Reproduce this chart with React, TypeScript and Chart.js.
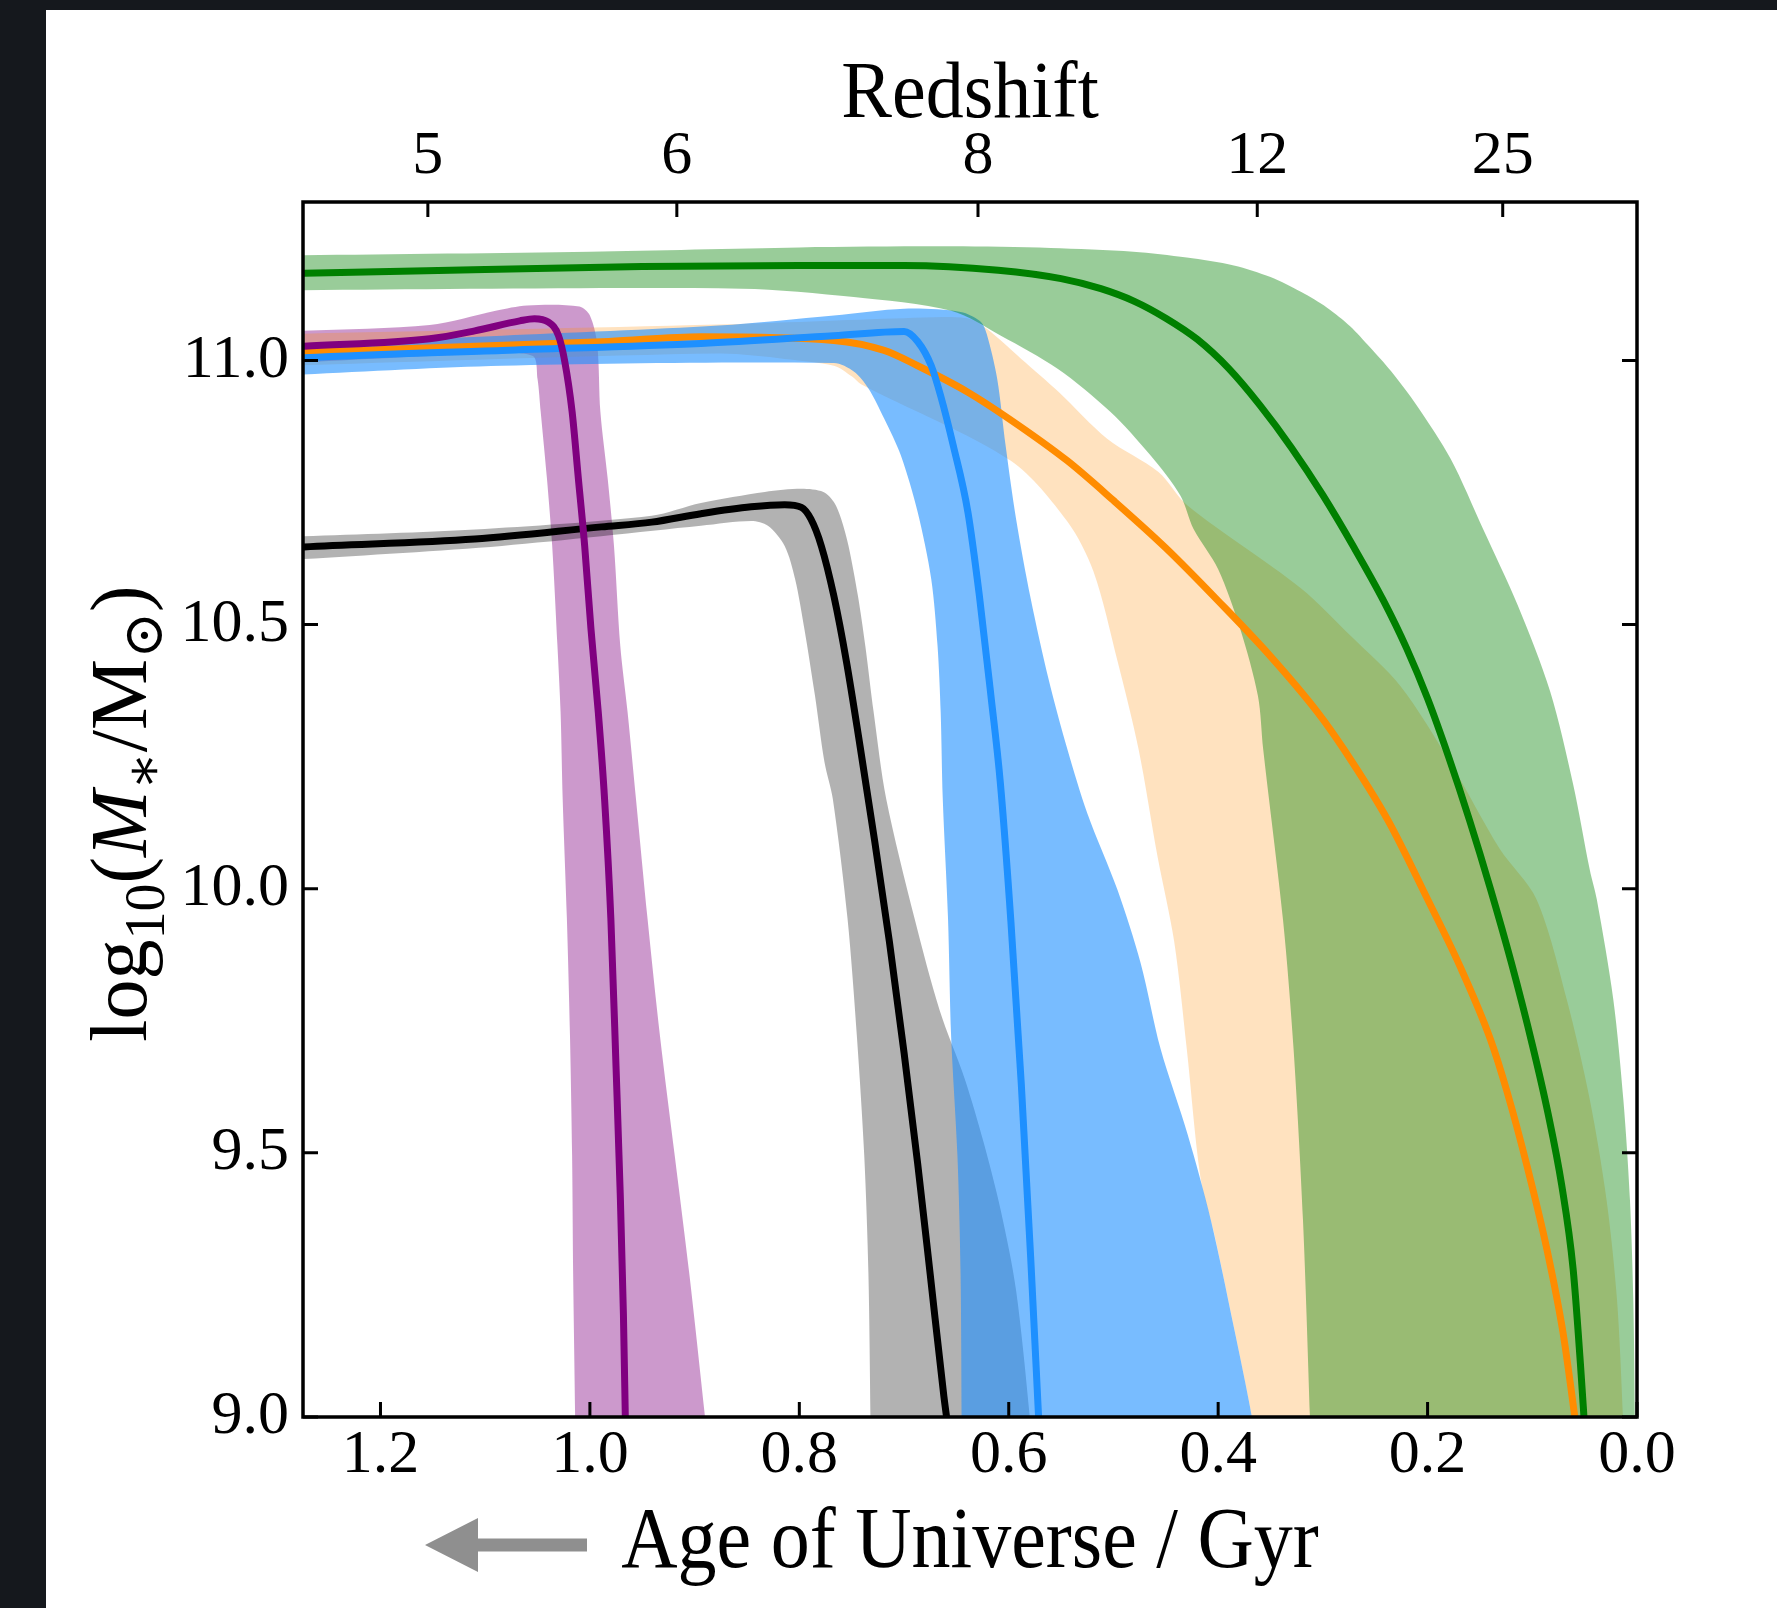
import React, { useEffect, useRef } from 'react';
import { Chart, registerables } from 'chart.js';

Chart.register(...registerables);

const FONT = '"Liberation Serif", "DejaVu Serif", serif';

// ---------- axes ----------
const xTickValues = [0.0, 0.2, 0.4, 0.6, 0.8, 1.0, 1.2];
const yTickValues = [9.0, 9.5, 10.0, 10.5, 11.0];
const redshiftTickLabels = [5, 6, 8, 12, 25];
const xRange = [0, 1.274];
const yRange = [9.0, 11.3];

// ---------- series: [age (Gyr), log10 M*] ----------
const purpleLine = [
  [1.29, 11.025], [1.273, 11.027], [1.153, 11.041], [1.11, 11.056], [1.067, 11.075], [1.053, 11.079],
  [1.04, 11.073], [1.03, 11.047], [1.024, 10.998], [1.017, 10.903], [1.011, 10.776], [1.005, 10.649],
  [0.999, 10.492], [0.992, 10.334], [0.986, 10.17], [0.98, 9.944], [0.975, 9.66], [0.971, 9.42],
  [0.968, 9.195], [0.966, 8.98],
];
const purpleUpper = [
  [1.29, 11.055], [1.153, 11.067], [1.09, 11.094], [1.06, 11.104], [1.01, 11.102], [1.0, 11.085],
  [0.993, 11.03], [0.99, 10.903], [0.983, 10.776], [0.977, 10.649], [0.971, 10.46], [0.964, 10.334],
  [0.956, 10.17], [0.945, 9.944], [0.933, 9.72], [0.919, 9.495], [0.905, 9.27], [0.889, 8.98], [0.885, 8.9],
];
const purpleLower = [
  [1.29, 10.995], [1.11, 11.012], [1.055, 11.009], [1.05, 10.965], [1.047, 10.903], [1.041, 10.776],
  [1.036, 10.649], [1.031, 10.46], [1.028, 10.334], [1.026, 10.17], [1.022, 9.944], [1.019, 9.72],
  [1.017, 9.495], [1.016, 9.27], [1.014, 8.98], [1.014, 8.9],
];

const blackLine = [
  [1.29, 10.645], [1.273, 10.647], [1.11, 10.662], [0.989, 10.685], [0.941, 10.694], [0.894, 10.71],
  [0.846, 10.723], [0.814, 10.727], [0.798, 10.722], [0.789, 10.70], [0.779, 10.649], [0.767, 10.554],
  [0.755, 10.43], [0.742, 10.27], [0.728, 10.09], [0.714, 9.9], [0.7, 9.69], [0.687, 9.48],
  [0.675, 9.27], [0.662, 9.04], [0.658, 8.98],
];
const grayUpper = [
  [1.29, 10.666], [1.11, 10.68], [0.941, 10.706], [0.894, 10.73], [0.833, 10.751], [0.798, 10.757],
  [0.777, 10.751], [0.767, 10.732], [0.76, 10.70], [0.753, 10.649], [0.744, 10.554], [0.737, 10.46],
  [0.729, 10.334], [0.717, 10.17], [0.69, 9.944], [0.666, 9.77], [0.642, 9.64], [0.624, 9.52],
  [0.6075, 9.39], [0.593, 9.24], [0.579, 8.98], [0.577, 8.9],
];
const grayLower = [
  [1.29, 10.622], [1.273, 10.624], [1.084, 10.649], [0.894, 10.687], [0.846, 10.696], [0.83, 10.687],
  [0.814, 10.649], [0.804, 10.586], [0.795, 10.49], [0.785, 10.365], [0.776, 10.24], [0.768, 10.17],
  [0.754, 9.944], [0.745, 9.72], [0.738, 9.495], [0.734, 9.27], [0.732, 8.98], [0.732, 8.9],
];

const blueLine = [
  [1.29, 11.003], [1.273, 11.005], [1.084, 11.019], [0.894, 11.032], [0.767, 11.047], [0.70, 11.055],
  [0.687, 11.036], [0.674, 10.99], [0.665, 10.933], [0.653, 10.839], [0.639, 10.713], [0.628, 10.554],
  [0.617, 10.365], [0.608, 10.2], [0.598, 9.94], [0.588, 9.63], [0.579, 9.3], [0.571, 8.98],
];
const blueUpper = [
  [1.29, 11.03], [1.084, 11.047], [0.877, 11.066], [0.767, 11.085], [0.70, 11.098], [0.646, 11.092],
  [0.627, 11.074], [0.621, 11.05], [0.611, 10.965], [0.603, 10.839], [0.593, 10.70], [0.579, 10.549],
  [0.562, 10.397], [0.544, 10.264], [0.525, 10.143], [0.496, 9.997], [0.474, 9.859], [0.455, 9.697],
  [0.429, 9.534], [0.407, 9.373], [0.385, 9.17], [0.366, 8.98], [0.362, 8.9],
];
const blueLower = [
  [1.29, 10.972], [1.084, 10.99], [0.767, 10.995], [0.748, 10.979], [0.734, 10.947], [0.719, 10.89],
  [0.703, 10.82], [0.687, 10.713], [0.674, 10.586], [0.668, 10.46], [0.665, 10.334], [0.663, 10.17],
  [0.658, 9.944], [0.655, 9.72], [0.649, 9.495], [0.646, 9.27], [0.645, 8.98], [0.645, 8.9],
];

const orangeLine = [
  [1.29, 11.015], [1.273, 11.016], [0.982, 11.036], [0.894, 11.045], [0.767, 11.038], [0.719, 11.019],
  [0.687, 10.99], [0.639, 10.94], [0.6, 10.89], [0.544, 10.81], [0.5, 10.735], [0.45, 10.645],
  [0.4, 10.545], [0.35, 10.44], [0.305, 10.334], [0.28, 10.264], [0.238, 10.13], [0.2, 9.98],
  [0.169, 9.853], [0.14, 9.715], [0.124, 9.615], [0.105, 9.475], [0.086, 9.317], [0.0706, 9.159], [0.058, 8.98],
];
const orangeUpper = [
  [1.29, 11.05], [0.877, 11.068], [0.70, 11.08], [0.64, 11.08], [0.621, 11.06], [0.588, 11.003],
  [0.552, 10.94], [0.506, 10.852], [0.457, 10.789], [0.429, 10.725], [0.321, 10.569], [0.274, 10.48],
  [0.226, 10.384], [0.178, 10.238], [0.131, 10.075], [0.096, 9.98], [0.067, 9.79], [0.045, 9.6],
  [0.029, 9.41], [0.019, 9.22], [0.013, 8.98], [0.012, 8.9],
];
const orangeLower = [
  [1.29, 10.99], [0.877, 11.013], [0.814, 11.003], [0.767, 10.99], [0.75, 10.97], [0.741, 10.955],
  [0.598, 10.81], [0.544, 10.695], [0.519, 10.6], [0.496, 10.43], [0.476, 10.264], [0.458, 10.062],
  [0.442, 9.9], [0.43, 9.697], [0.417, 9.455], [0.404, 9.349], [0.385, 9.17], [0.366, 8.98], [0.362, 8.9],
];

const greenLine = [
  [1.29, 11.164], [1.273, 11.165], [1.1, 11.172], [0.95, 11.178], [0.8, 11.18], [0.7, 11.18],
  [0.61, 11.171], [0.55, 11.155], [0.512, 11.136], [0.48, 11.112], [0.45, 11.08], [0.42, 11.04],
  [0.39, 10.985], [0.36, 10.915], [0.33, 10.835], [0.3, 10.745], [0.27, 10.645], [0.242, 10.545],
  [0.22, 10.455], [0.2, 10.36], [0.18, 10.25], [0.16, 10.13], [0.14, 10.0], [0.12, 9.86],
  [0.1, 9.705], [0.085, 9.575], [0.072, 9.44], [0.061, 9.28], [0.054, 9.1], [0.05, 8.98],
];
const greenUpper = [
  [1.29, 11.199], [1.0, 11.206], [0.8, 11.214], [0.655, 11.216], [0.56, 11.213], [0.481, 11.206],
  [0.43, 11.195], [0.385, 11.18], [0.35, 11.158], [0.321, 11.13], [0.296, 11.1], [0.274, 11.065],
  [0.255, 11.025], [0.235, 10.98], [0.21, 10.914], [0.178, 10.814], [0.147, 10.681], [0.114, 10.537],
  [0.083, 10.374], [0.061, 10.198], [0.045, 10.035], [0.0384, 9.98], [0.0226, 9.79], [0.013, 9.6],
  [0.0067, 9.41], [0.0035, 9.22], [0.002, 8.98], [0.002, 8.9],
];
const greenLower = [
  [1.29, 11.133], [0.855, 11.136], [0.748, 11.12], [0.655, 11.094], [0.6075, 11.047], [0.553, 10.984],
  [0.503, 10.903], [0.4645, 10.82], [0.436, 10.744], [0.4235, 10.681], [0.4, 10.605], [0.379, 10.492],
  [0.362, 10.365], [0.357, 10.264], [0.338, 9.94], [0.328, 9.697], [0.319, 9.373], [0.312, 8.98], [0.311, 8.9],
];

// flat LCDM (H0 = 70, Om = 0.3): age of the Universe at redshift z, in Gyr
function ageAtRedshift(z: number): number {
  const H0 = 70, Om = 0.3, OL = 0.7;
  const hubbleTime = 977.792 / H0;
  return (2 / (3 * Math.sqrt(OL))) * hubbleTime * Math.asinh(Math.sqrt(OL / Om) * Math.pow(1 + z, -1.5));
}

const toPts = (arr: number[][]) => arr.map(([x, y]) => ({ x, y }));
const polygon = (upper: number[][], lower: number[][]) => toPts([...upper, ...lower.slice().reverse()]);

const lineDs = (data: number[][], color: string, order: number) => ({
  type: 'line' as const,
  data: toPts(data),
  borderColor: color,
  borderWidth: 7,
  pointRadius: 0,
  fill: false,
  cubicInterpolationMode: 'monotone' as const,
  borderJoinStyle: 'round' as const,
  order,
});

const bandDs = (upper: number[][], lower: number[][], color: string, order: number) => ({
  type: 'line' as const,
  data: polygon(upper, lower),
  borderWidth: 0,
  borderColor: 'rgba(0,0,0,0)',
  backgroundColor: color,
  pointRadius: 0,
  fill: 'shape' as const,
  tension: 0.3,
  order,
});

const yTitleParts = [
  { t: 'log', italic: false, scale: 1, dy: 0 },
  { t: '10', italic: false, scale: 0.7, dy: 0.22 },
  { t: '(', italic: false, scale: 1, dy: 0 },
  { t: 'M', italic: true, scale: 1, dy: 0 },
  { t: '\u2217', italic: false, scale: 0.7, dy: 0.2 },
  { t: '/', italic: false, scale: 1, dy: 0 },
  { t: 'M', italic: false, scale: 1, dy: 0 },
  { t: '\u2299', italic: false, scale: 0.7, dy: 0.2 },
  { t: ')', italic: false, scale: 1, dy: 0 },
];

const frameTicksPlugin = {
  id: 'frameTicks',
  afterDatasetsDraw(chart: any) {
    const { ctx, chartArea: a, scales } = chart;
    const L = 15;
    ctx.save();
    ctx.strokeStyle = '#000';
    ctx.lineWidth = 3;
    ctx.beginPath();
    for (const t of scales.x.ticks) {
      const px = scales.x.getPixelForValue(t.value);
      ctx.moveTo(px, a.bottom);
      ctx.lineTo(px, a.bottom - L);
    }
    for (const t of scales.x2.ticks) {
      const px = scales.x2.getPixelForValue(t.value);
      ctx.moveTo(px, a.top);
      ctx.lineTo(px, a.top + L);
    }
    for (const t of scales.y.ticks) {
      const py = scales.y.getPixelForValue(t.value);
      ctx.moveTo(a.left, py);
      ctx.lineTo(a.left + L, py);
      ctx.moveTo(a.right, py);
      ctx.lineTo(a.right - L, py);
    }
    ctx.stroke();
    ctx.lineWidth = 3.5;
    ctx.strokeRect(a.left, a.top, a.right - a.left, a.bottom - a.top);
    ctx.restore();
  },
};

const titlesPlugin = {
  id: 'titles',
  afterDraw(chart: any) {
    const { ctx, chartArea: a } = chart;
    const cx = (a.left + a.right) / 2;
    ctx.save();
    ctx.fillStyle = '#000';
    ctx.textBaseline = 'alphabetic';
    ctx.textAlign = 'center';

    // top title
    ctx.save();
    ctx.translate(cx, a.top - 85);
    ctx.scale(1, 1.05);
    ctx.font = `76px ${FONT}`;
    ctx.fillText('Redshift', 0, 0);
    ctx.restore();

    // bottom title
    ctx.save();
    ctx.translate(cx, a.bottom + 150);
    ctx.scale(1, 1.1);
    ctx.font = `78px ${FONT}`;
    ctx.fillText('Age of Universe / Gyr', 0, 0);
    ctx.restore();

    // arrow
    const ay = a.bottom + 128;
    const tipX = a.left + 122, headX = a.left + 175, tailX = a.left + 284;
    ctx.fillStyle = '#8f8f8f';
    ctx.beginPath();
    ctx.moveTo(tipX, ay);
    ctx.lineTo(headX, ay - 27);
    ctx.lineTo(headX, ay - 6.5);
    ctx.lineTo(tailX, ay - 6.5);
    ctx.lineTo(tailX, ay + 6.5);
    ctx.lineTo(headX, ay + 6.5);
    ctx.lineTo(headX, ay + 27);
    ctx.closePath();
    ctx.fill();

    // y title (rich text, rotated)
    const size = 80;
    ctx.fillStyle = '#000';
    ctx.textAlign = 'left';
    ctx.translate(a.left - 157, (a.top + a.bottom) / 2 + 4);
    ctx.rotate(-Math.PI / 2);
    const fontOf = (p: any) => `${p.italic ? 'italic ' : ''}${size * p.scale}px ${FONT}`;
    let total = 0;
    const widths = yTitleParts.map((p) => {
      ctx.font = fontOf(p);
      const w = ctx.measureText(p.t).width;
      total += w;
      return w;
    });
    let x = -total / 2;
    yTitleParts.forEach((p, i) => {
      ctx.font = fontOf(p);
      ctx.fillText(p.t, x, p.dy * size);
      x += widths[i];
    });
    ctx.restore();
  },
};

const tickFont = { family: FONT, size: 62 };

export default function App() {
  const ref = useRef<HTMLCanvasElement | null>(null);

  useEffect(() => {
    if (!ref.current) return;
    const chart = new Chart(ref.current, {
      type: 'line',
      data: {
        datasets: [
          lineDs(greenLine, '#008000', 0),
          lineDs(purpleLine, '#800080', 1),
          lineDs(blueLine, '#1e90ff', 2),
          lineDs(orangeLine, '#ff8c00', 3),
          lineDs(blackLine, '#000000', 4),
          bandDs(greenUpper, greenLower, 'rgba(0,128,0,0.4)', 10),
          bandDs(blueUpper, blueLower, 'rgba(30,144,255,0.6)', 11),
          bandDs(orangeUpper, orangeLower, 'rgba(255,140,0,0.25)', 12),
          bandDs(grayUpper, grayLower, 'rgba(0,0,0,0.3)', 13),
          bandDs(purpleUpper, purpleLower, 'rgba(128,0,128,0.4)', 14),
        ] as any,
      },
      options: {
        animation: false,
        responsive: false,
        devicePixelRatio: 1,
        parsing: false as any,
        normalized: false,
        layout: { padding: { left: 0, right: 140, top: 0, bottom: 0 } },
        plugins: { legend: { display: false }, tooltip: { enabled: false } },
        events: [],
        scales: {
          x: {
            type: 'linear',
            position: 'bottom',
            min: xRange[0],
            max: xRange[1],
            reverse: true,
            grid: { display: false, drawTicks: false },
            border: { display: false },
            afterBuildTicks: (s: any) => { s.ticks = xTickValues.map((v) => ({ value: v })); },
            afterFit: (s: any) => { s.height = 191; },
            ticks: {
              autoSkip: false, maxRotation: 0, minRotation: 0, padding: 2,
              color: '#000', font: tickFont,
              callback: (v: any) => Number(v).toFixed(1),
            },
          },
          x2: {
            type: 'linear',
            position: 'top',
            min: xRange[0],
            max: xRange[1],
            reverse: true,
            grid: { display: false, drawTicks: false },
            border: { display: false },
            afterBuildTicks: (s: any) => { s.ticks = redshiftTickLabels.map((z) => ({ value: ageAtRedshift(z) })); },
            afterFit: (s: any) => { s.height = 192; },
            ticks: {
              autoSkip: false, maxRotation: 0, minRotation: 0, padding: 8,
              color: '#000', font: tickFont,
              callback: (_v: any, i: number) => String(redshiftTickLabels[i]),
            },
          },
          y: {
            type: 'linear',
            position: 'left',
            min: yRange[0],
            max: yRange[1],
            grid: { display: false, drawTicks: false },
            border: { display: false },
            afterBuildTicks: (s: any) => { s.ticks = yTickValues.map((v) => ({ value: v })); },
            afterFit: (s: any) => { s.width = 257; },
            ticks: {
              autoSkip: false, padding: 14,
              color: '#000', font: tickFont,
              callback: (v: any) => Number(v).toFixed(1),
            },
          },
        } as any,
      },
      plugins: [frameTicksPlugin, titlesPlugin],
    } as any);
    return () => chart.destroy();
  }, []);

  return (
    <div style={{ position: 'fixed', left: 0, top: 0, width: '100vw', height: '100vh', background: '#15181d', overflow: 'hidden' }}>
      <canvas
        ref={ref}
        width={1731}
        height={1598}
        style={{ position: 'absolute', left: 46, top: 10, width: 1731, height: 1598, background: '#ffffff', display: 'block' }}
      />
    </div>
  );
}
